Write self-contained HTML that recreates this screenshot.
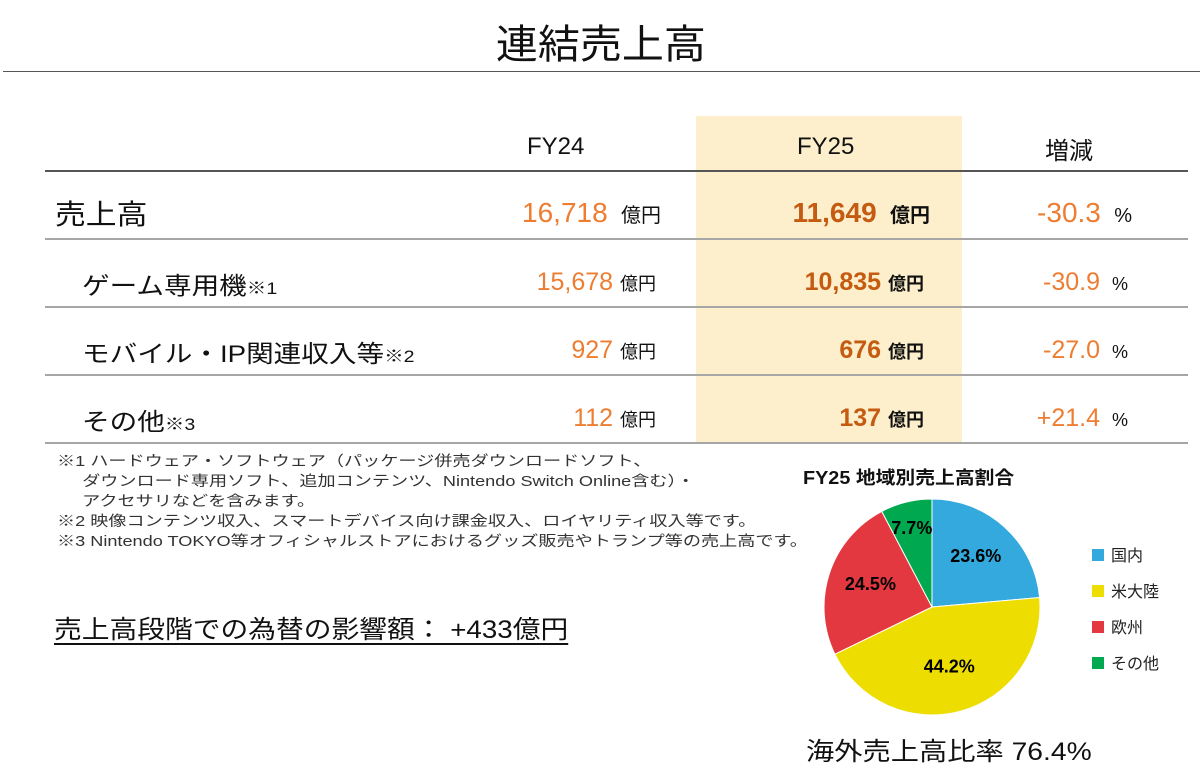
<!DOCTYPE html>
<html><head><meta charset="utf-8"><style>
body{margin:0;width:1203px;height:775px;background:#fff;position:relative;overflow:hidden;font-family:"Liberation Sans","Noto Sans CJK JP",sans-serif;color:#111}
.a{position:absolute;white-space:nowrap}
.o{color:#ed7d31}.b{color:#c55a11;font-weight:bold}
.ln{position:absolute;left:45px;width:1143px;height:2px;background:#a6a6a6}
.fn{font-size:14.5px;color:#333;line-height:20px;transform:scaleX(1.25);transform-origin:left top}
.sl{transform:scaleX(1.15);transform-origin:left top}
</style></head><body>
<div class="a" style="left:0;width:1203px;text-align:center;top:12px;font-size:40px;transform:scaleX(1.05);transform-origin:615px 0">連結売上高</div>
<div class="a" style="left:3px;width:1197px;top:71px;height:1px;background:#555"></div>
<div class="a" style="left:696px;top:116px;width:266px;height:327px;background:#fdefcb"></div>
<div class="a" style="left:527px;top:133px;font-size:24px">FY24</div>
<div class="a" style="left:797px;top:133px;font-size:24px">FY25</div>
<div class="a" style="left:1045px;top:131px;font-size:24px">増減</div>
<div class="ln" style="top:170px;background:#555"></div>
<div class="ln" style="top:238px"></div>
<div class="ln" style="top:306px"></div>
<div class="ln" style="top:374px"></div>
<div class="ln" style="top:442px"></div>

<div class="a" style="left:55px;top:193px;font-size:28px;transform:scaleX(1.1);transform-origin:left top">売上高</div>
<div class="a" style="right:542px;top:197px;font-size:28px"><span class="o">16,718</span> <span style="font-size:20px">&nbsp;億円</span></div>
<div class="a" style="right:273px;top:197px;font-size:28px"><span class="b">11,649</span> <b style="font-size:20px">&nbsp;億円</b></div>
<div class="a" style="right:71px;top:197px;font-size:28px"><span class="o">-30.3</span> <span style="font-size:20px">&nbsp;%</span></div>

<div class="a sl" style="left:82px;top:266px;font-size:24px">ゲーム専用機<span style="font-size:17px">※1</span></div>
<div class="a" style="right:547px;top:268px;font-size:25px"><span class="o">15,678</span> <span style="font-size:18px">億円</span></div>
<div class="a" style="right:279px;top:268px;font-size:25px"><span class="b">10,835</span> <b style="font-size:18px">億円</b></div>
<div class="a" style="right:75px;top:268px;font-size:25px"><span class="o">-30.9</span> <span style="font-size:18px">&nbsp;%</span></div>

<div class="a sl" style="left:82px;top:334px;font-size:24px">モバイル・IP関連収入等<span style="font-size:17px">※2</span></div>
<div class="a" style="right:547px;top:336px;font-size:25px"><span class="o">927</span> <span style="font-size:18px">億円</span></div>
<div class="a" style="right:279px;top:336px;font-size:25px"><span class="b">676</span> <b style="font-size:18px">億円</b></div>
<div class="a" style="right:75px;top:336px;font-size:25px"><span class="o">-27.0</span> <span style="font-size:18px">&nbsp;%</span></div>

<div class="a sl" style="left:82px;top:402px;font-size:24px">その他<span style="font-size:17px">※3</span></div>
<div class="a" style="right:547px;top:404px;font-size:25px"><span class="o">112</span> <span style="font-size:18px">億円</span></div>
<div class="a" style="right:279px;top:404px;font-size:25px"><span class="b">137</span> <b style="font-size:18px">億円</b></div>
<div class="a" style="right:75px;top:404px;font-size:25px"><span class="o">+21.4</span> <span style="font-size:18px">&nbsp;%</span></div>

<div class="a fn" style="left:57px;top:452px">※1 ハードウェア・ソフトウェア（パッケージ併売ダウンロードソフト、<br>&nbsp;&nbsp;&nbsp;&nbsp;&nbsp;ダウンロード専用ソフト、追加コンテンツ、Nintendo Switch Online含む）・<br>&nbsp;&nbsp;&nbsp;&nbsp;&nbsp;アクセサリなどを含みます。<br>※2 映像コンテンツ収入、スマートデバイス向け課金収入、ロイヤリティ収入等です。<br>※3 Nintendo TOKYO等オフィシャルストアにおけるグッズ販売やトランプ等の売上高です。</div>
<div class="a" style="left:54px;top:610px;font-size:25px;text-decoration:underline;text-underline-offset:5px;transform:scaleX(1.11);transform-origin:left top">売上高段階での為替の影響額： +433億円</div>

<div class="a" style="left:803px;top:464px;font-size:18px;font-weight:bold;transform:scaleX(1.1);transform-origin:left top">FY25 地域別売上高割合</div>
<svg class="a" id="pie" style="left:0;top:0" width="1203" height="775"></svg>
<div class="a" style="left:806px;top:732px;font-size:25px;transform:scaleX(1.13);transform-origin:left top">海外売上高比率 76.4%</div>
<script>
const regions=["国内","米大陸","欧州","その他"];
const shares=[23.6,44.2,24.5,7.7];
const colors=["#33a9dd","#eddd00","#e3383f","#00a84f"];
const svg=document.getElementById('pie');
const NS="http://www.w3.org/2000/svg";
const cx=932,cy=607,r=108;
const total=shares.reduce((a,b)=>a+b,0);
let ang=0;
function pt(a,rr){return [cx+rr*Math.sin(a),cy-rr*Math.cos(a)];}
shares.forEach((v,i)=>{
  const a0=ang,a1=ang+v/total*2*Math.PI;ang=a1;
  const p0=pt(a0,r),p1=pt(a1,r);
  const path=document.createElementNS(NS,'path');
  path.setAttribute('d',`M${cx},${cy}L${p0[0]},${p0[1]}A${r},${r} 0 ${a1-a0>Math.PI?1:0} 1 ${p1[0]},${p1[1]}Z`);
  path.setAttribute('fill',colors[i]);
  path.setAttribute('stroke','#fff');path.setAttribute('stroke-width','1');
  
  
  svg.appendChild(path);
  const lp=pt((a0+a1)/2,i===3?r*0.78:r*0.6);
  const t=document.createElementNS(NS,'text');
  t.setAttribute('x',lp[0]);t.setAttribute('y',lp[1]+(i===3?9:3));
  t.setAttribute('text-anchor','middle');t.setAttribute('font-size','18');t.setAttribute('font-weight','bold');
  t.setAttribute('font-family','"Liberation Sans",sans-serif');
  t.textContent=v.toFixed(1)+'%';
  
  
  svg.appendChild(t);
  const sq=document.createElementNS(NS,'rect');
  sq.setAttribute('x',1092);sq.setAttribute('y',549+i*36);sq.setAttribute('width',12);sq.setAttribute('height',12);sq.setAttribute('fill',colors[i]);
  
  
  svg.appendChild(sq);
  const lt=document.createElementNS(NS,'text');
  lt.setAttribute('x',1111);lt.setAttribute('y',561+i*36);lt.setAttribute('font-size','16');
  lt.setAttribute('font-family','"Liberation Sans","Noto Sans CJK JP",sans-serif');lt.setAttribute('fill','#222');
  lt.textContent=regions[i];
  
  
  svg.appendChild(lt);
});
</script>
</body></html>
